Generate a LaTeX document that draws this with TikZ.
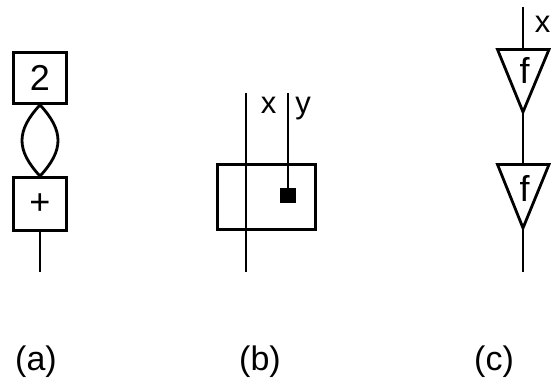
\documentclass[tikz,border=0pt]{standalone}
\usepackage{fontspec}
\setmainfont{Liberation Sans}
\begin{document}
\begin{tikzpicture}[x=1pt,y=-1pt,
  ln/.style={line width=2.8pt},
  boxnode/.style={draw,line width=2.8pt,inner sep=0pt,font=\fontsize{36}{42}\selectfont},
  lbl/.style={font=\fontsize{31}{36}\selectfont,inner sep=0pt,anchor=base},
  ftxt/.style={font=\fontsize{36}{42}\selectfont,inner sep=0pt,anchor=base},
  captxt/.style={font=\fontsize{34}{40}\selectfont,inner sep=0pt,anchor=base}]
\useasboundingbox (0,0) rectangle (551,383);
% (a)
\node[boxnode,minimum width=53pt,minimum height=51pt] (two) at (40,78) {2};
\node[boxnode,minimum width=53pt,minimum height=53pt] (plus) at (40,204) {+};
\coordinate (aend) at (40,272);
\draw[ln] (two.south) .. controls ++(-24,26) and ++(-24,-26) .. (plus.north)
          .. controls ++(24,-26) and ++(24,26) .. (two.south);
\draw[ln] (plus.south) -- (aend);
% (b)
\node[boxnode,minimum width=98pt,minimum height=65pt] (bbox) at (266.5,197) {};
\coordinate (xtop) at (246,93);
\coordinate (xbot) at (246,272);
\coordinate (ytop) at (288,93);
\node[fill=black,inner sep=0pt,minimum width=16pt,minimum height=15pt] (sq) at (288,195.5) {};
\draw[ln] (xtop) -- (xbot);
\draw[ln] (ytop) -- (sq.north);
\node[lbl] (xl) at (268.5,113) {x};
\node[lbl] (yl) at (303,113) {y};
% (c)
\coordinate (ctop) at (523,7);
\coordinate (t1a) at (497.5,49.5);
\coordinate (t1b) at (549,49.5);
\coordinate (t1m) at (523,49.5);
\coordinate (t1p) at (523,112);
\coordinate (t2a) at (497.5,164.5);
\coordinate (t2b) at (549,164.5);
\coordinate (t2m) at (523,164.5);
\coordinate (t2p) at (523,228);
\coordinate (cend) at (523,272);
\draw[ln,line join=miter] (t1a) -- (t1b) -- (t1p) -- cycle;
\draw[ln,line join=miter] (t2a) -- (t2b) -- (t2p) -- cycle;
\draw[ln] (ctop) -- (t1m);
\draw[ln] (t1p) -- (t2m);
\draw[ln] (t2p) -- (cend);
\node[ftxt] (f1) at (524.5,83) {f};
\node[ftxt] (f2) at (524.5,201) {f};
\node[lbl] (cx) at (542.5,32) {x};
% captions
\node[captxt] (ca) at (36,370) {(a)};
\node[captxt] (cb) at (260,370) {(b)};
\node[captxt] (cc) at (494,370) {(c)};
\end{tikzpicture}
\end{document}
